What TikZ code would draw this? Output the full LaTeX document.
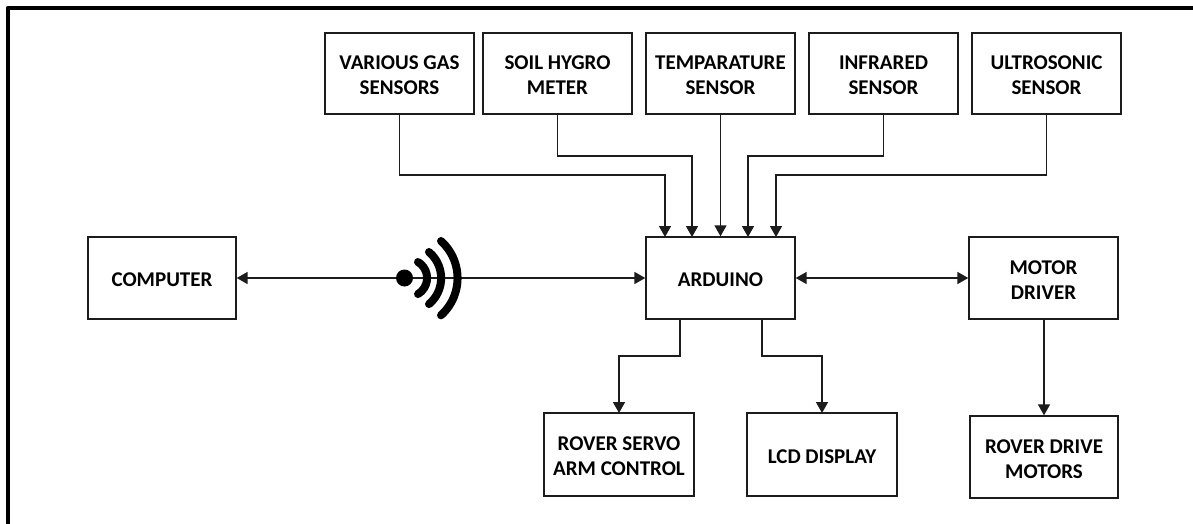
\documentclass[tikz,border=0pt]{standalone}
\usepackage{fontspec}
\setmainfont{Carlito}
\usetikzlibrary{arrows.meta,calc}
\definecolor{ink}{HTML}{1C1C1C}
\tikzset{
  blockbox/.style={draw=ink,line width=1.4pt,fill=white,inner sep=0pt,
    font=\fontsize{21}{25}\selectfont\bfseries,text=black},
  link/.style={draw=ink,line width=1.6pt,-{Triangle[length=11pt,width=12pt]}},
  dlink/.style={draw=ink,line width=1.6pt,{Triangle[length=11pt,width=12pt]}-{Triangle[length=11pt,width=12pt]}},
  wave/.style={line width=8pt,line cap=round,black},
  frameline/.style={line width=4.6pt,black,line join=round}
}
\newcommand{\blockat}[6]{\node[blockbox,minimum width=#4pt-#3pt,minimum height=#6pt-#5pt] (#1) at ({(#3+#4)/2},{(#5+#6)/2}) {\raisebox{-8.7pt}[0pt][0pt]{\begin{tabular}{@{}c@{}}#2\end{tabular}}};}
\begin{document}
\begin{tikzpicture}[x=1pt,y=-1pt]
\useasboundingbox (0,0) rectangle (1193,524);
\draw[frameline] (8,524) -- (8,8) -- (1193,8);
\blockat{gas}{VARIOUS GAS\\SENSORS}{325}{474}{33}{114}
\blockat{soil}{SOIL HYGRO\\METER}{483}{632}{33}{114}
\blockat{temp}{TEMPARATURE\\SENSOR}{646}{795}{33}{114}
\blockat{ir}{INFRARED\\SENSOR}{809}{958}{33}{114}
\blockat{us}{ULTROSONIC\\SENSOR}{972}{1121}{33}{114}
\blockat{comp}{COMPUTER}{88}{236}{237}{319}
\blockat{ard}{ARDUINO}{646}{795}{237}{319}
\blockat{motor}{MOTOR\\DRIVER}{969}{1118}{237}{319}
\blockat{servo}{ROVER SERVO\\ARM CONTROL}{544}{694}{413}{496}
\blockat{lcd}{LCD DISPLAY}{747}{897}{413}{496}
\blockat{drive}{ROVER DRIVE\\MOTORS}{970}{1118}{416}{498}
\coordinate (a1) at (665,237);
\coordinate (a2) at (692,237);
\coordinate (a4) at (748,237);
\coordinate (a5) at (776,237);
\coordinate (b1) at (680,319);
\coordinate (b2) at (762,319);
\coordinate (s1) at (619,413);
\coordinate (s2) at (822,413);
\coordinate (m2) at (1044,319);
\draw[link] (gas.south) -- (gas.south |- 0,175) -| (a1);
\draw[link] (soil.south) -- (soil.south |- 0,156) -| (a2);
\draw[link] (temp.south) -- (ard.north);
\draw[link] (ir.south) -- (ir.south |- 0,156) -| (a4);
\draw[link] (us.south) -- (us.south |- 0,175) -| (a5);
\draw[dlink] (comp.east) -- (ard.west);
\draw[dlink] (ard.east) -- (motor.west);
\draw[link] (b1) -- (b1 |- 0,356) -| (s1);
\draw[link] (b2) -- (b2 |- 0,356) -| (s2);
\draw[link] (m2) -- (m2 |- drive.north);
\node[circle,fill=black,minimum size=17pt,inner sep=0pt] (dot) at (404.5,278) {};
\draw[wave] (418,262) arc[start angle=-59,end angle=59,radius=18.7];
\draw[wave] (429,252) arc[start angle=-50,end angle=50,radius=34];
\draw[wave] (441,241) arc[start angle=-48,end angle=48,radius=50];
\end{tikzpicture}
\end{document}
